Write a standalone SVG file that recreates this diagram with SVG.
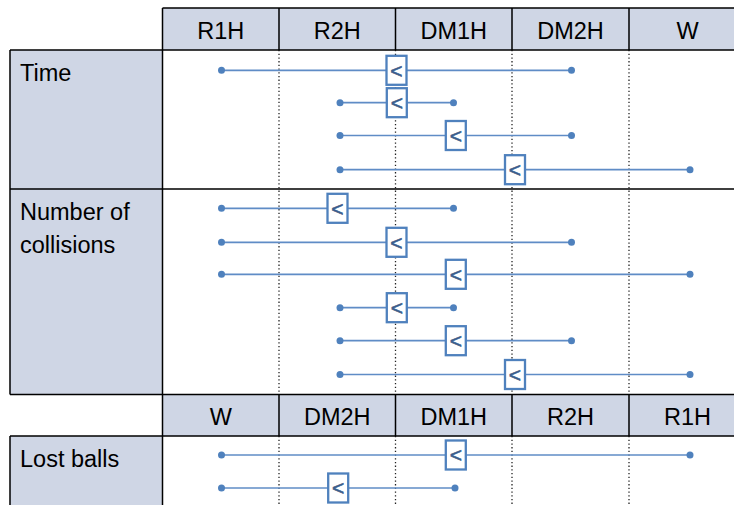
<svg xmlns="http://www.w3.org/2000/svg" width="734" height="505" viewBox="0 0 734 505">
<style>
.fill{fill:#cfd6e5}
.grid{stroke:#000;stroke-width:1.5;fill:none}
.dot{stroke:#222;stroke-width:1.3;stroke-dasharray:1.3 2.4;fill:none}
.hdr{font-family:"Liberation Sans",Arial,sans-serif;font-size:23.5px;fill:#000;text-anchor:middle}
.lbl{font-family:"Liberation Sans",Arial,sans-serif;font-size:23.5px;fill:#000}
.bar line{stroke:#5f8cc6;stroke-width:1.7}
.bar circle{fill:#4f81bd}
.bar rect{fill:#fff;stroke:#4f81bd;stroke-width:2.3}
.bar text{font-family:"Liberation Sans",Arial,sans-serif;font-size:21px;fill:#3a5d8c;stroke:#3a5d8c;stroke-width:0.6;text-anchor:middle}
</style>
<rect width="734" height="505" fill="#fff"/>
<g id="background">
<rect class="fill" x="162.5" y="8" width="572" height="42"/>
<rect class="fill" x="10" y="50" width="152.5" height="344.5"/>
<rect class="fill" x="162.5" y="394.5" width="572" height="41.5"/>
<rect class="fill" x="10" y="436" width="152.5" height="70"/>
</g>
<g id="dotted-guides">
<path class="dot" d="M279 50V394.5M395.5 50V394.5M512 50V394.5M629 50V394.5M279 436V505M395.5 436V505M512 436V505M629 436V505"/>
</g>
<g id="grid">
<path class="grid" d="M162.5 8H734M10 50H734M10 189H734M10 394.5H734M10 436H734M10 50V394.5M10 436V505M162.5 8V505M279 8V50M395.5 8V50M512 8V50M629 8V50M279 394.5V436M395.5 394.5V436M512 394.5V436M629 394.5V436"/>
</g>
<g id="header-top">
<text class="hdr" x="220.8" y="38.5">R1H</text>
<text class="hdr" x="337.3" y="38.5">R2H</text>
<text class="hdr" x="453.8" y="38.5">DM1H</text>
<text class="hdr" x="570.5" y="38.5">DM2H</text>
<text class="hdr" x="687.5" y="38.5">W</text>
</g>
<g id="header-bottom">
<text class="hdr" x="220.8" y="424.5">W</text>
<text class="hdr" x="337.3" y="424.5">DM2H</text>
<text class="hdr" x="453.8" y="424.5">DM1H</text>
<text class="hdr" x="570.5" y="424.5">R2H</text>
<text class="hdr" x="687.5" y="424.5">R1H</text>
</g>
<g id="labels">
<text class="lbl" x="20" y="80.5">Time</text>
<text class="lbl" x="20" y="220">Number of</text>
<text class="lbl" x="20" y="252.5">collisions</text>
<text class="lbl" x="20" y="466.5">Lost balls</text>
</g>
<g id="connectors">
<g id="time-1" class="bar"><line x1="221.5" y1="70.3" x2="571.5" y2="70.3"/><circle cx="221.5" cy="70.3" r="3.5"/><circle cx="571.5" cy="70.3" r="3.5"/><rect x="386.5" y="55.8" width="20" height="29"/><text x="396.5" y="77.6">&lt;</text></g>
<g id="time-2" class="bar"><line x1="340" y1="102.7" x2="453.5" y2="102.7"/><circle cx="340" cy="102.7" r="3.5"/><circle cx="453.5" cy="102.7" r="3.5"/><rect x="386.8" y="88.2" width="20" height="29"/><text x="396.8" y="110">&lt;</text></g>
<g id="time-3" class="bar"><line x1="340" y1="135.5" x2="571.5" y2="135.5"/><circle cx="340" cy="135.5" r="3.5"/><circle cx="571.5" cy="135.5" r="3.5"/><rect x="445.8" y="121" width="20" height="29"/><text x="455.8" y="142.8">&lt;</text></g>
<g id="time-4" class="bar"><line x1="340" y1="169.7" x2="690" y2="169.7"/><circle cx="340" cy="169.7" r="3.5"/><circle cx="690" cy="169.7" r="3.5"/><rect x="505" y="155.2" width="20" height="29"/><text x="515" y="177">&lt;</text></g>
<g id="coll-1" class="bar"><line x1="221.5" y1="208.3" x2="453.5" y2="208.3"/><circle cx="221.5" cy="208.3" r="3.5"/><circle cx="453.5" cy="208.3" r="3.5"/><rect x="327.5" y="193.8" width="20" height="29"/><text x="337.5" y="215.6">&lt;</text></g>
<g id="coll-2" class="bar"><line x1="221.5" y1="242.3" x2="571.5" y2="242.3"/><circle cx="221.5" cy="242.3" r="3.5"/><circle cx="571.5" cy="242.3" r="3.5"/><rect x="386.5" y="227.8" width="20" height="29"/><text x="396.5" y="249.6">&lt;</text></g>
<g id="coll-3" class="bar"><line x1="221.5" y1="274.3" x2="690" y2="274.3"/><circle cx="221.5" cy="274.3" r="3.5"/><circle cx="690" cy="274.3" r="3.5"/><rect x="445.8" y="259.8" width="20" height="29"/><text x="455.8" y="281.6">&lt;</text></g>
<g id="coll-4" class="bar"><line x1="340" y1="307.7" x2="453.5" y2="307.7"/><circle cx="340" cy="307.7" r="3.5"/><circle cx="453.5" cy="307.7" r="3.5"/><rect x="386.8" y="293.2" width="20" height="29"/><text x="396.8" y="315">&lt;</text></g>
<g id="coll-5" class="bar"><line x1="340" y1="340.7" x2="571.5" y2="340.7"/><circle cx="340" cy="340.7" r="3.5"/><circle cx="571.5" cy="340.7" r="3.5"/><rect x="445.8" y="326.2" width="20" height="29"/><text x="455.8" y="348">&lt;</text></g>
<g id="coll-6" class="bar"><line x1="340" y1="374.5" x2="690" y2="374.5"/><circle cx="340" cy="374.5" r="3.5"/><circle cx="690" cy="374.5" r="3.5"/><rect x="505" y="360" width="20" height="29"/><text x="515" y="381.8">&lt;</text></g>
<g id="lost-1" class="bar"><line x1="221.5" y1="455" x2="690" y2="455"/><circle cx="221.5" cy="455" r="3.5"/><circle cx="690" cy="455" r="3.5"/><rect x="445.8" y="440.5" width="20" height="29"/><text x="455.8" y="462.3">&lt;</text></g>
<g id="lost-2" class="bar"><line x1="221.5" y1="488" x2="455" y2="488"/><circle cx="221.5" cy="488" r="3.5"/><circle cx="455" cy="488" r="3.5"/><rect x="328.2" y="473.5" width="20" height="29"/><text x="338.2" y="495.3">&lt;</text></g>
</g>
</svg>
